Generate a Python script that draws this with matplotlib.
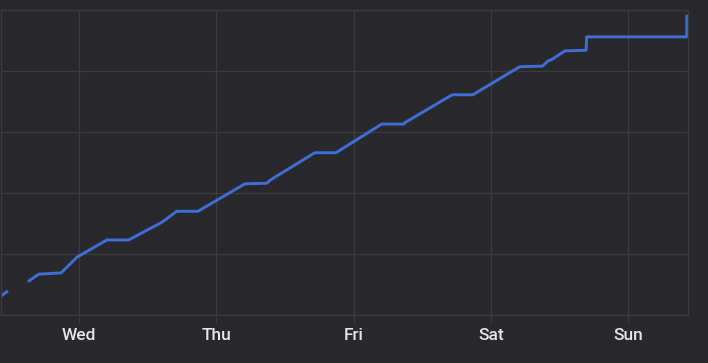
import matplotlib
matplotlib.use("Agg")
import matplotlib.pyplot as plt
import numpy as np

# hours since Tue 00:00, values in grid units (gap = nan)
hours = [10.4, 11.4, np.nan, 15.3, 17.0, 20.9, 23.7, 28.9, 32.7, 38.5, 41.1, 44.8,
         53.0, 56.8, 57.4, 65.2, 68.9, 76.9, 80.8, 80.9, 89.2, 92.8, 101.0, 105.0,
         105.9, 106.8, 108.9, 112.6, 112.7, 130.2, 130.2]
values = [0.31, 0.38, np.nan, 0.56, 0.67, 0.69, 0.95, 1.23, 1.23, 1.52, 1.70, 1.70,
          2.15, 2.16, 2.21, 2.66, 2.66, 3.13, 3.13, 3.15, 3.61, 3.61, 4.07, 4.08,
          4.16, 4.20, 4.33, 4.34, 4.56, 4.56, 4.90]
day_ticks = [24, 48, 72, 96, 120]
day_labels = ["Wed", "Thu", "Fri", "Sat", "Sun"]

bg = "#29282d"
grid = "#3c3b40"
blue = "#3f6fd6"

fig = plt.figure(figsize=(7.08, 3.63), dpi=100, facecolor=bg)
ax = fig.add_axes([1 / 708, 48 / 363, 687 / 708, 305 / 363])
ax.set_facecolor(bg)

ax.plot(hours, values, color=blue, lw=2.1, solid_joinstyle="round")

ax.set_xlim(10.4, 130.4)
ax.set_ylim(0, 5)
ax.set_xticks(day_ticks)
ax.set_xticklabels(day_labels, fontfamily="Roboto", fontsize=12.5,
                   fontweight="medium", color="#e6e6e6")
ax.set_yticks(range(6))
ax.tick_params(axis="y", left=False, labelleft=False)
ax.tick_params(axis="x", length=6, width=1, color=grid, pad=3)
ax.grid(True, color=grid, lw=1)
for s in ax.spines.values():
    s.set_color(grid)
    s.set_linewidth(1)

fig.savefig("out.png", dpi=100, facecolor=bg)
